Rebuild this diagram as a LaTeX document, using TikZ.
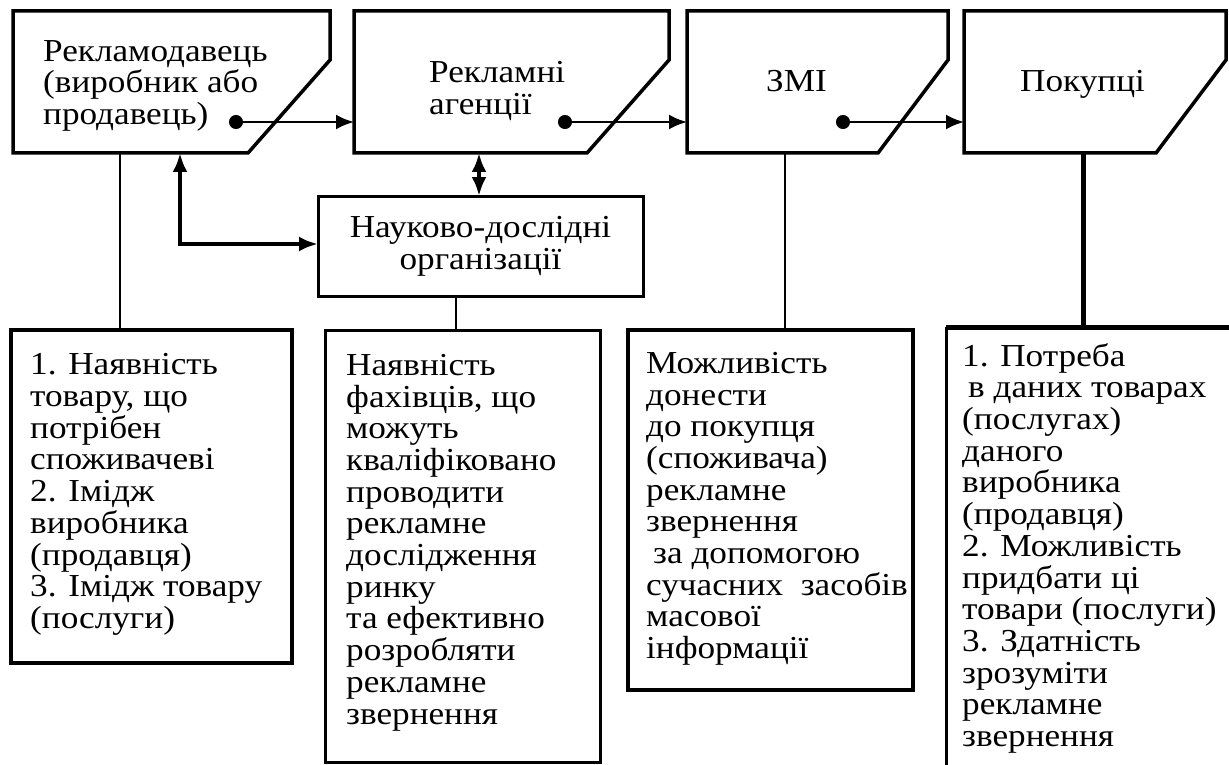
\documentclass[tikz,border=0pt]{standalone}
\usepackage{fontspec}
\setmainfont{Liberation Serif}[FakeStretch=1.1]
\usetikzlibrary{arrows.meta,calc}

\newlength{\du}
\setlength{\du}{1pt}

\tikzset{
  frame/.style={draw=none, inner sep=0pt, outer sep=0pt},
  listbox/.style={draw, line width=3\du, inner sep=0pt, outer sep=0pt},
  boxline/.style={line width=3.5\du, line join=miter},
  boxtext/.style={anchor=north west, inner sep=0pt, align=left, font=\fontsize{32}{31.7}\selectfont},
  tieline/.style={line width=2.5\du},
  flowline/.style={line width=2.5\du, {Circle[length=14pt]}-{Latex[length=18pt,width=15pt]}},
  backline/.style={line width=4.5\du, {Latex[length=19pt,width=15pt]}-{Latex[length=19pt,width=15pt]}},
}

% box with the lower right corner cut off
\newcommand{\cutbox}[2]{%
  \draw[boxline] (#1.north west) -- (#1.north east)
    -- ($(#1.north east)!0.345!(#1.south east)$)
    -- ($(#1.south east)+(-#2\du,0)$) -- (#1.south west) -- cycle;}

\begin{document}
\begin{tikzpicture}
\pgftransformxscale{1.000000}
\pgftransformyscale{-1.000000}
\useasboundingbox (0\du,0\du) rectangle (1229\du,765\du);
% top row
\node[frame, minimum width=317\du, minimum height=142\du] (seller) at (171.5\du,82\du) {};
\cutbox{seller}{82}
% setfont left to latex
\node[boxtext] (sellertext) at (43\du,40\du) {Рекламодавець\\(виробник або\\продавець)};
\node[frame, minimum width=315\du, minimum height=142\du] (agency) at (511.5\du,82\du) {};
\cutbox{agency}{82}
% setfont left to latex
\node[boxtext] (agencytext) at (429\du,61.5\du) {Рекламні\\агенції};
\node[frame, minimum width=261\du, minimum height=142\du] (media) at (817.5\du,82\du) {};
\cutbox{media}{70}
% setfont left to latex
\node[boxtext, anchor=base west] (mediatext) at (766\du,92\du) {ЗМІ};
\node[frame, minimum width=262\du, minimum height=142\du] (buyers) at (1095\du,82\du) {};
\cutbox{buyers}{70}
% setfont left to latex
\node[boxtext, anchor=base west] (buyerstext) at (1020\du,92\du) {Покупці};
% middle box
\node[listbox, minimum width=325\du, minimum height=100\du, align=center, font=\fontsize{32}{31.7}\selectfont] (science) at (480.5\du,246\du) {Науково-дослідні\\організації};
% bottom row
\node[listbox, line width=3.5\du, minimum width=281\du, minimum height=333\du] (sellerlist) at (151.5\du,496.5\du) {};
\node[listbox, minimum width=275\du, minimum height=432\du] (sciencelist) at (462.5\du,546\du) {};
\node[listbox, line width=3.5\du, minimum width=285\du, minimum height=360\du] (medialist) at (770.5\du,510\du) {};
\node[frame, minimum width=283\du, minimum height=438\du] (buyerlist) at (1087.5\du,546\du) {};
\draw[line width=3\du] (buyerlist.south west) -- (buyerlist.north west);
\draw[line width=5\du] (buyerlist.north west) -- (buyerlist.north east);
% setfont left to latex
\node[boxtext] (sellerlisttext) at (30\du,353.5\du) {1. Наявність\\товару, що\\потрібен\\споживачеві\\2. Імідж\\виробника\\(продавця)\\3. Імідж товару\\(послуги)};
\node[boxtext] (sciencelisttext) at (346\du,354\du) {Наявність\\фахівців, що\\можуть\\кваліфіковано\\проводити\\рекламне\\дослідження\\ринку\\та ефективно\\розробляти\\рекламне\\звернення};
\node[boxtext] (medialisttext) at (646\du,352\du) {Можливість\\донести\\до покупця\\(споживача)\\рекламне\\звернення\\\hspace*{7\du}за допомогою\\сучасних\ \ засобів\\масової\\інформації};
\node[boxtext] (buyerlisttext) at (962\du,343\du) {1. Потреба\\\hspace*{6\du}в даних товарах\\(послугах)\\даного\\виробника\\(продавця)\\2. Можливість\\придбати ці\\товари (послуги)\\3. Здатність\\зрозуміти\\рекламне\\звернення};
% drop lines
\coordinate (dropA) at (120\du,0\du);
\coordinate (dropB) at (456\du,0\du);
\coordinate (dropC) at (785\du,0\du);
\coordinate (dropD) at (1083\du,0\du);
\draw[tieline] (seller.south -| dropA) -- (sellerlist.north -| dropA);
\draw[tieline] (science.south -| dropB) -- (sciencelist.north -| dropB);
\draw[tieline] (media.south -| dropC) -- (medialist.north -| dropC);
\draw[tieline, line width=5\du] (buyers.south -| dropD) -- (buyerlist.north -| dropD);
% flow arrows
\coordinate (dot1) at (229\du,122\du);
\coordinate (dot2) at (558\du,122\du);
\coordinate (dot3) at (836\du,122\du);
\draw[flowline] (dot1) -- (agency.west |- dot1);
\draw[flowline] (dot2) -- (media.west |- dot2);
\draw[flowline] (dot3) -- (buyers.west |- dot3);
% links to the research box
\coordinate (linkx) at (479\du,0\du);
\coordinate (fb) at (180\du,244\du);
\draw[backline] (agency.south -| linkx) -- (science.north -| linkx);
\draw[backline] (seller.south -| fb) -- (fb) -- (science.west |- fb);
\end{tikzpicture}
\end{document}
